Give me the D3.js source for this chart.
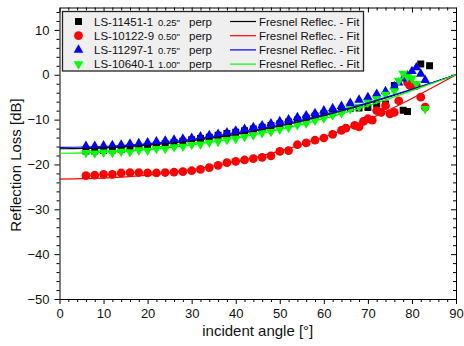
<!DOCTYPE html>
<html>
<head>
<meta charset="utf-8">
<script src="https://cdn.jsdelivr.net/npm/d3@7"></script>
<style>
  body { margin: 0; background: #fff; }
  text { font-family: "Liberation Sans", Arial, sans-serif; }
</style>
</head>
<body>
<svg id="chart" width="464" height="346"></svg>
<script>
const blackAngle = [6,8,10,12,14,16,18,20,22,24,26,28,30,32,34,36,38,40,42,44,46,48,50,52,54,56,58,60,62,64,66,68,70,72,74,76,78,79,82,84];
const blackLoss = [-17.0,-17.0,-16.9,-16.8,-16.6,-16.4,-16.2,-16.0,-15.7,-15.4,-15.1,-14.8,-14.5,-14.2,-13.9,-13.5,-13.1,-12.8,-12.5,-12.1,-11.7,-11.3,-10.9,-10.5,-10.1,-9.7,-9.2,-8.7,-8.3,-7.8,-7.5,-7.4,-7.3,-6.6,-6.5,-2.4,-7.9,-8.2,2.4,2.0];

const redAngle = [6,8,10,12,14,16,18,20,22,24,26,28,30,32,34,36,38,40,42,44,46,48,50,52,54,56,58,60,62,64,65,67,68,69,70,71,72,73,74,75,76,77,79,79.5,81,82,83];
const redLoss = [-22.5,-22.4,-22.2,-22.2,-21.9,-21.8,-21.8,-21.9,-21.9,-21.8,-21.7,-21.6,-21.4,-21.1,-20.7,-20.2,-19.6,-19.3,-19.0,-18.7,-18.4,-18.1,-17.1,-16.9,-15.6,-15.2,-14.6,-14.1,-13.3,-12.4,-11.9,-11.3,-11.6,-10.4,-9.8,-10.1,-8.0,-8.4,-6.9,-8.7,-8.4,-5.8,-1.7,-2.4,-2.4,-5.0,-7.2];

const blueAngle = [6,8,10,12,14,16,18,20,22,24,26,28,30,32,34,36,38,40,42,44,46,48,50,52,54,56,58,60,62,64,66,68,70,72,74,76,77,78,79,80,81,82,83];
const blueLoss = [-15.9,-15.9,-15.8,-15.7,-15.6,-15.4,-15.3,-15.1,-14.9,-14.7,-14.5,-14.3,-14.1,-13.8,-13.5,-13.2,-12.9,-12.5,-12.1,-11.7,-11.3,-10.9,-10.4,-10.0,-9.5,-9.1,-8.6,-8.0,-7.5,-7.0,-6.3,-5.6,-5.0,-4.3,-3.7,-2.6,-1.8,-0.9,-0.2,0.8,1.6,0.2,-1.2];

const greenAngle = [6,8,10,12,14,16,18,20,22,24,26,28,30,32,34,36,38,40,42,44,46,48,50,52,54,56,58,60,62,64,66,68,70,72,74,76,77,78,79,80,81,83];
const greenLoss = [-17.4,-17.5,-17.3,-17.4,-17.1,-17.2,-16.8,-16.9,-16.5,-16.5,-16.1,-16.0,-15.6,-15.5,-15.1,-14.9,-14.5,-14.3,-13.8,-13.5,-13.0,-12.7,-12.2,-11.8,-11.2,-10.8,-10.2,-9.7,-9.0,-8.5,-7.6,-7.1,-6.2,-5.4,-4.4,-3.6,-1.3,0.3,-0.5,-0.8,-2.0,-7.6];

// Fresnel fit curves
const fitAngle = [0,10,20,30,40,50,60,65,70,75,80,85,90];
const blackFit = [-16.5,-16.3,-15.71,-14.71,-13.29,-11.43,-9.12,-7.80,-6.38,-4.88,-3.29,-1.66,0];
const redFit = [-23.29,-23.06,-22.36,-21.15,-19.40,-17.02,-13.92,-12.07,-10.01,-7.74,-5.29,-2.69,0];
const blueFit = [-16.2,-16.0,-15.42,-14.43,-13.03,-11.20,-8.93,-7.63,-6.24,-4.77,-3.22,-1.62,0];
const greenFit = [-17.5,-17.29,-16.68,-15.64,-14.16,-12.21,-9.78,-8.38,-6.87,-5.25,-3.55,-1.79,0];

const sampleNames = ["LS-11451-1", "LS-10122-9", "LS-11297-1", "LS-10640-1"];
const sampleSizes = ["0.25\"", "0.50\"", "0.75\"", "1.00\""];
const fitLabel = "Fresnel Reflec. - Fit";

const xTicks = [0,10,20,30,40,50,60,70,80,90];
const yTicks = [-50,-40,-30,-20,-10,0,10];

const width = 464, height = 346;
const svg = d3.select("#chart");

const x = d3.scaleLinear().domain([0, 90]).range([59.5, 456]);
const y = d3.scaleLinear().domain([-50, 15]).range([299, 7.5]);

const xMinor = d3.range(0, 91, 2).filter(d => d % 10 !== 0);
const yMinor = d3.range(-50, 16, 2).filter(d => d % 10 !== 0);

// clip for the data
svg.append("clipPath").attr("id", "clip")
  .append("rect")
  .attr("x", x(0)).attr("y", y(15))
  .attr("width", x(90) - x(0)).attr("height", y(-50) - y(15));

function styleAxis(g) {
  g.selectAll(".domain").attr("stroke", "#000").attr("stroke-width", 1);
  g.selectAll(".tick line").attr("stroke", "#000").attr("stroke-width", 1);
  g.selectAll("text").attr("font-size", 13).attr("fill", "#111")
    .style("font-family", '"Liberation Sans", Arial, sans-serif');
}

// bottom axis
svg.append("g").attr("transform", `translate(0,${y(-50)})`)
  .call(d3.axisBottom(x).tickValues(xTicks).tickSize(5).tickPadding(5).tickSizeOuter(0))
  .call(styleAxis);
svg.append("g").attr("transform", `translate(0,${y(-50)})`)
  .call(d3.axisBottom(x).tickValues(xMinor).tickSize(3).tickFormat(""))
  .call(g => g.select(".domain").remove())
  .call(styleAxis);

// top axis (ticks pointing down)
svg.append("g").attr("transform", `translate(0,${y(15)})`)
  .call(d3.axisBottom(x).tickValues(xTicks).tickSize(5).tickFormat("").tickSizeOuter(0))
  .call(styleAxis);
svg.append("g").attr("transform", `translate(0,${y(15)})`)
  .call(d3.axisBottom(x).tickValues(xMinor).tickSize(3).tickFormat(""))
  .call(g => g.select(".domain").remove())
  .call(styleAxis);

// left axis
svg.append("g").attr("transform", `translate(${x(0)},0)`)
  .call(d3.axisLeft(y).tickValues(yTicks).tickSize(5).tickPadding(5).tickSizeOuter(0))
  .call(styleAxis);
svg.append("g").attr("transform", `translate(${x(0)},0)`)
  .call(d3.axisLeft(y).tickValues(yMinor).tickSize(3).tickFormat(""))
  .call(g => g.select(".domain").remove())
  .call(styleAxis);

// right axis (ticks pointing left)
svg.append("g").attr("transform", `translate(${x(90)},0)`)
  .call(d3.axisLeft(y).tickValues(yTicks).tickSize(5).tickFormat("").tickSizeOuter(0))
  .call(styleAxis);
svg.append("g").attr("transform", `translate(${x(90)},0)`)
  .call(d3.axisLeft(y).tickValues(yMinor).tickSize(3).tickFormat(""))
  .call(g => g.select(".domain").remove())
  .call(styleAxis);

// axis titles
svg.append("text")
  .attr("x", (x(0) + x(90)) / 2).attr("y", 336)
  .attr("text-anchor", "middle").attr("font-size", 15).attr("fill", "#111")
  .text("incident angle [°]");
svg.append("text")
  .attr("transform", "translate(21,165) rotate(-90)")
  .attr("text-anchor", "middle").attr("font-size", 15).attr("fill", "#111")
  .text("Reflection Loss [dB]");

// series definitions
const series = [
  { angle: blackAngle, loss: blackLoss, fit: blackFit, color: "#000000", symbol: d3.symbolSquare, size: 48, rot: 0 },
  { angle: redAngle, loss: redLoss, fit: redFit, color: "#ff0000", symbol: d3.symbolCircle, size: 60, rot: 0 },
  { angle: blueAngle, loss: blueLoss, fit: blueFit, color: "#0000ff", symbol: d3.symbolTriangle, size: 40, rot: 0 },
  { angle: greenAngle, loss: greenLoss, fit: greenFit, color: "#00ff00", symbol: d3.symbolTriangle, size: 40, rot: 180 }
];

const plot = svg.append("g").attr("clip-path", "url(#clip)");

series.forEach(s => {
  const pts = s.angle.map((a, i) => [a, s.loss[i]]);
  plot.append("g").selectAll("path")
    .data(pts)
    .join("path")
    .attr("transform", d => `translate(${x(d[0])},${y(d[1])}) rotate(${s.rot})`)
    .attr("d", d3.symbol().type(s.symbol).size(s.size))
    .attr("fill", s.color);
});

const line = d3.line()
  .x(d => x(d[0]))
  .y(d => y(d[1]))
  .curve(d3.curveMonotoneX);

series.forEach(s => {
  plot.append("path")
    .datum(fitAngle.map((a, i) => [a, s.fit[i]]))
    .attr("d", line)
    .attr("fill", "none")
    .attr("stroke", s.color)
    .attr("stroke-width", 1.2);
});

// legend
const legend = svg.append("g");
legend.append("rect")
  .attr("x", 62.5).attr("y", 11.5)
  .attr("width", 301).attr("height", 59.5)
  .attr("fill", "#efefef").attr("stroke", "#222").attr("stroke-width", 1.3);

series.forEach((s, i) => {
  const cy = 21.5 + i * 14.2;
  legend.append("path")
    .attr("transform", `translate(78.5,${cy}) rotate(${s.rot})`)
    .attr("d", d3.symbol().type(s.symbol).size(s.size))
    .attr("fill", s.color);
  legend.append("text").attr("x", 94).attr("y", cy + 4.2)
    .attr("font-size", 11.5).attr("fill", "#111").text(sampleNames[i]);
  legend.append("text").attr("x", 158).attr("y", cy + 4)
    .attr("font-size", 9.5).attr("fill", "#111").text(sampleSizes[i]);
  legend.append("text").attr("x", 189).attr("y", cy + 4.2)
    .attr("font-size", 11.5).attr("fill", "#111").text("perp");
  legend.append("line")
    .attr("x1", 230).attr("x2", 256).attr("y1", cy).attr("y2", cy)
    .attr("stroke", s.color).attr("stroke-width", 1.2);
  legend.append("text").attr("x", 259).attr("y", cy + 4.2)
    .attr("font-size", 11.5).attr("fill", "#111").text(fitLabel);
});
</script>
</body>
</html>
